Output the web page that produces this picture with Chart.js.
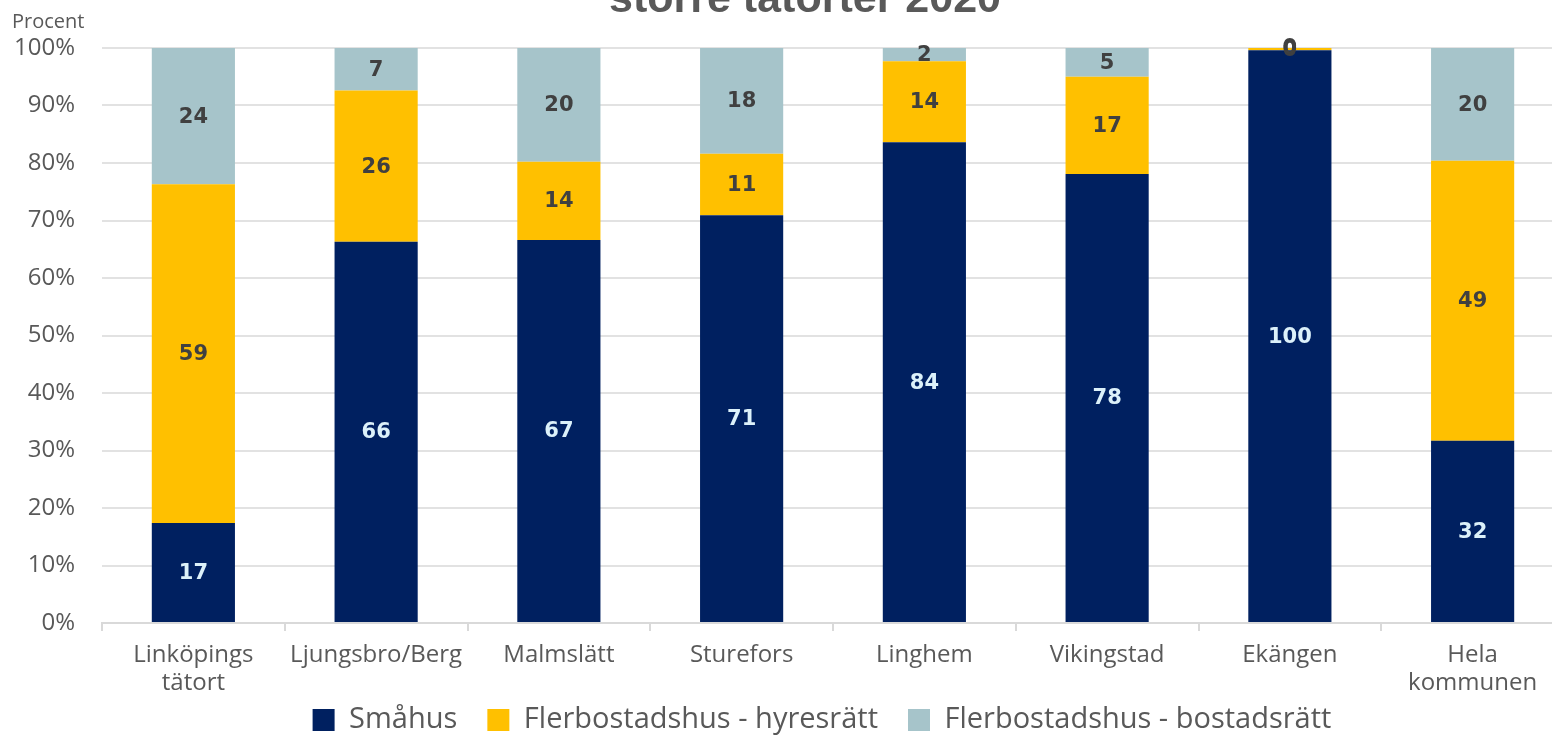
<!DOCTYPE html>
<html lang="sv">
<head>
<meta charset="utf-8">
<title>Upplåtelseform per tätort 2020</title>
<script src="https://cdn.jsdelivr.net/npm/chart.js@4.4.1/dist/chart.umd.min.js"></script>
<style>
  html, body { margin: 0; padding: 0; background: #fff; overflow: hidden; }
  #wrap { position: relative; width: 1580px; height: 735px; }
</style>
</head>
<body>
<div id="wrap"><canvas id="chart"></canvas></div>
<script>
// Andel (%) per upplåtelseform
const categories = [['Linköpings', 'tätort'], 'Ljungsbro/Berg', 'Malmslätt', 'Sturefors', 'Linghem', 'Vikingstad', 'Ekängen', ['Hela', 'kommunen']];
const smahus = [17.4, 66.3, 66.6, 70.9, 83.6, 78.1, 99.6, 31.7];
const hyresratt = [58.9, 26.3, 13.6, 10.7, 14.1, 16.9, 0.4, 48.7];
const bostadsratt = [23.7, 7.4, 19.8, 18.4, 2.3, 5.0, 0, 19.6];
const yTicks = [0, 10, 20, 30, 40, 50, 60, 70, 80, 90, 100];

const GREY = '#595959';

// rubrik och y-axelns enhet ritas direkt på canvas
const headerText = {
  id: 'headerText',
  afterDraw(chart) {
    const ctx = chart.ctx;
    ctx.save();
    ctx.fillStyle = GREY;
    ctx.textBaseline = 'alphabetic';
    ctx.font = 'bold 43px "Liberation Sans", Arial, sans-serif';
    ctx.textAlign = 'center';
    ctx.fillText('större tätorter 2020', 805, 12);
    ctx.font = '20px "Open Sans", sans-serif';
    ctx.textAlign = 'left';
    ctx.fillText('Procent', 12, 28);
    ctx.restore();
  }
};

// flytta upp förklaringen så att den ligger tätt under kategorietiketterna
const legendNudge = {
  id: 'legendNudge',
  afterLayout(chart) {
    const lg = chart.legend;
    if (!lg) return;
    lg.top -= 23.5;
    lg.bottom -= 23.5;
    lg.left -= 11;
    lg.right -= 11;
  }
};

// värdeetiketter mitt i varje stapeldel
const barValues = {
  id: 'barValues',
  afterDatasetsDraw(chart) {
    const ctx = chart.ctx;
    ctx.save();
    ctx.font = 'bold 21px "DejaVu Sans", Verdana, sans-serif';
    ctx.textAlign = 'center';
    ctx.textBaseline = 'middle';
    chart.data.datasets.forEach((ds, i) => {
      const meta = chart.getDatasetMeta(i);
      if (meta.hidden) return;
      meta.data.forEach((bar, j) => {
        const { x, y, base } = bar.getProps(['x', 'y', 'base'], true);
        ctx.fillStyle = ds.labelColor;
        ctx.fillText(String(Math.round(ds.data[j])), x, (y + base) / 2 + 1);
      });
    });
    ctx.restore();
  }
};

new Chart(document.getElementById('chart'), {
  type: 'bar',
  data: {
    labels: categories,
    datasets: [
      { label: 'Småhus', data: smahus, backgroundColor: '#002060', labelColor: '#dcf1fa' },
      { label: 'Flerbostadshus - hyresrätt', data: hyresratt, backgroundColor: '#ffc000', labelColor: '#404040' },
      { label: 'Flerbostadshus - bostadsrätt', data: bostadsratt, backgroundColor: '#a6c4ca', labelColor: '#404040' }
    ]
  },
  options: {
    responsive: true,
    maintainAspectRatio: false,
    animation: false,
    layout: { padding: { top: 48, right: 16, left: 0, bottom: -33 } },
    datasets: {
      bar: { barPercentage: 1, categoryPercentage: 0.455, borderWidth: 0 }
    },
    scales: {
      x: {
        stacked: true,
        afterFit(scale) { scale.height = 76; },
        grid: { drawOnChartArea: false, drawTicks: true, tickLength: 8, color: '#d9d9d9', lineWidth: 2, offset: true },
        border: { display: true, color: '#d9d9d9', width: 2 },
        ticks: {
          color: GREY,
          font: { family: '"Open Sans", sans-serif', size: 24, lineHeight: 1.17 },
          padding: 10,
          maxRotation: 0,
          autoSkip: false
        }
      },
      y: {
        stacked: true,
        min: 0,
        max: 100,
        afterBuildTicks(scale) { scale.ticks = yTicks.map(v => ({ value: v })); },
        afterFit(scale) { scale.width = 102; },
        grid: { color: '#e2e2e2', lineWidth: 2, drawTicks: false },
        border: { display: false },
        ticks: {
          color: GREY,
          font: { family: '"Open Sans", sans-serif', size: 24 },
          padding: 27,
          callback: v => v + '%'
        }
      }
    },
    plugins: {
      legend: {
        position: 'bottom',
        fullSize: false,
        labels: {
          color: GREY,
          font: { family: '"Open Sans", sans-serif', size: 29 },
          boxWidth: 22,
          boxHeight: 22,
          padding: 30
        }
      },
      tooltip: { enabled: false }
    }
  },
  plugins: [headerText, legendNudge, barValues]
});
</script>
</body>
</html>
